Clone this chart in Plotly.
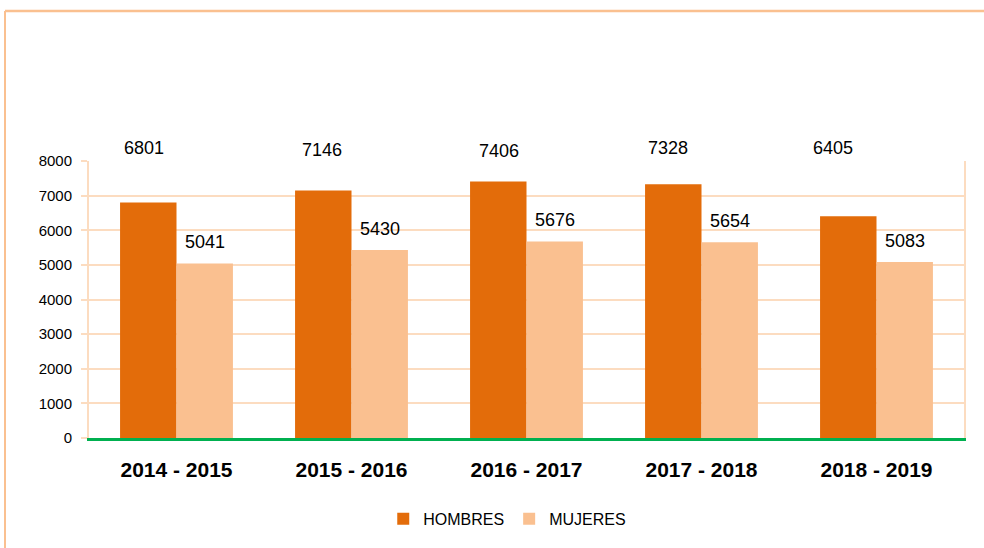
import plotly.graph_objects as go

categories = ["2014 - 2015", "2015 - 2016", "2016 - 2017", "2017 - 2018", "2018 - 2019"]
hombres = [6801, 7146, 7406, 7328, 6405]
mujeres = [5041, 5430, 5676, 5654, 5083]
hombres_label_y = [8380, 8320, 8300, 8380, 8380]
hombres_label_dx = [-5, -2, 0, -6, -16]

C_H = "#E36C0A"
C_M = "#FAC090"
GRID = "#FCDCC0"
FONT = "Liberation Sans"
YMAX = 8000

fig = go.Figure()
fig.add_trace(go.Bar(name="HOMBRES", x=categories, y=hombres, marker_color=C_H, marker_line_width=0))
fig.add_trace(go.Bar(name="MUJERES", x=categories, y=mujeres, marker_color=C_M, marker_line_width=0))

annotations = []
for c, v, ly, dx in zip(categories, hombres, hombres_label_y, hombres_label_dx):
    annotations.append(dict(x=c, y=ly / YMAX, xref="x", yref="paper", text=str(v), showarrow=False,
                            xshift=-28 + dx, yanchor="middle", font=dict(family=FONT, size=18, color="#000")))
for c, v in zip(categories, mujeres):
    annotations.append(dict(x=c, y=v, xref="x", yref="y", text=str(v), showarrow=False,
                            xshift=28, yshift=21, yanchor="middle", font=dict(family=FONT, size=18, color="#000")))

fig.update_layout(
    width=984, height=548,
    margin=dict(l=89, r=20, t=161, b=110),
    paper_bgcolor="white", plot_bgcolor="white",
    barmode="group", bargap=0.355, bargroupgap=0,
    font=dict(family=FONT, color="#000"),
    showlegend=True,
    legend=dict(orientation="h", x=0.478, xanchor="center", y=-0.292, yanchor="middle",
                font=dict(size=16, family=FONT), itemsizing="constant", traceorder="normal",
                tracegroupgap=0, itemwidth=30),
    annotations=annotations,
    shapes=[
        dict(type="line", xref="paper", yref="paper", x0=-0.096, x1=1.1, y0=1.5415, y1=1.5415,
             line=dict(color="#FAC090", width=2.5)),
        dict(type="line", xref="paper", yref="paper", x0=-0.096, x1=-0.096, y0=1.5415, y1=-0.45,
             line=dict(color="#FAC090", width=2)),
    ],
)
fig.update_yaxes(range=[0, YMAX], dtick=1000, showgrid=True, gridcolor=GRID, gridwidth=2,
                 showline=True, linecolor=GRID, linewidth=2, mirror=True,
                 ticks="outside", ticklen=6, tickcolor=GRID, tickwidth=2, ticklabelstandoff=6,
                 tickfont=dict(size=15, family=FONT, color="#000"), zeroline=False, fixedrange=True)
fig.update_xaxes(showline=True, linecolor="#00B050", linewidth=2.5, showgrid=False,
                 ticks="", tickfont=dict(size=21, family=FONT, color="#000", weight="bold"),
                 ticklabelstandoff=11)

fig.write_html("out.html", config={"displayModeBar": False},
               post_script="document.body.style.margin='0px';window.dispatchEvent(new Event('resize'));")
